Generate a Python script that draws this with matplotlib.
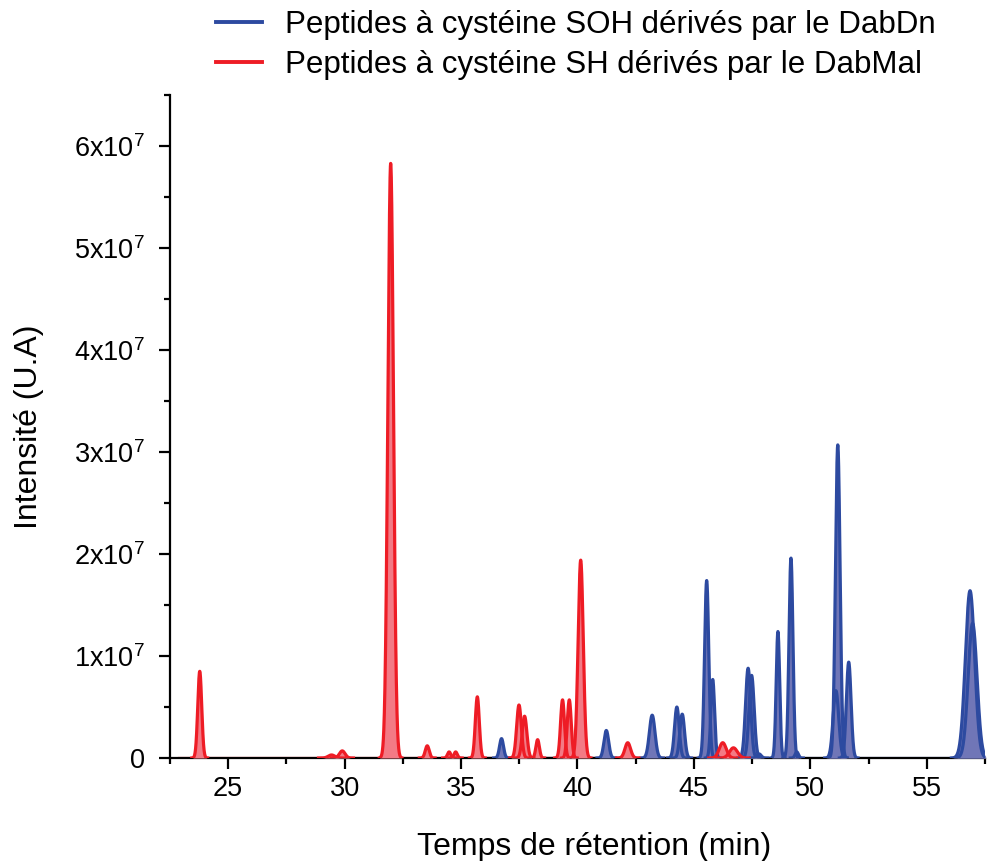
import numpy as np
import matplotlib.pyplot as plt
from matplotlib.ticker import MultipleLocator, FuncFormatter

plt.rcParams['font.family'] = ['Liberation Sans', 'DejaVu Sans']
plt.rcParams['mathtext.fontset'] = 'custom'
plt.rcParams['mathtext.rm'] = 'Liberation Sans'

# Peaks: retention time (min), height (U.A), width (sigma, min)
red_rt = [23.78, 29.44, 29.9, 31.98, 33.55, 34.49, 34.77, 35.7, 37.49, 37.73,
          38.29, 39.36, 39.65, 40.14, 42.16, 46.24, 46.7]
red_int = [8.5e6, 0.3e6, 0.7e6, 5.83e7, 1.2e6, 0.6e6, 0.6e6, 6.0e6, 5.2e6, 4.1e6,
           1.8e6, 5.7e6, 5.7e6, 1.94e7, 1.5e6, 1.5e6, 1.0e6]
red_sigma = [0.085, 0.14, 0.12, 0.12, 0.085, 0.07, 0.07, 0.085, 0.1, 0.1,
             0.075, 0.085, 0.085, 0.11, 0.12, 0.15, 0.17]

blue_rt = [36.74, 41.24, 43.21, 44.27, 44.5, 45.55, 45.81, 47.33, 47.48, 47.8,
           48.61, 49.17, 49.42, 51.1, 51.18, 51.65, 56.86, 56.97]
blue_int = [1.9e6, 2.7e6, 4.2e6, 5.0e6, 4.3e6, 1.74e7, 7.7e6, 8.8e6, 8.1e6, 0.4e6,
            1.24e7, 1.96e7, 0.6e6, 6.6e6, 3.07e7, 9.4e6, 1.64e7, 1.32e7]
blue_sigma = [0.085, 0.1, 0.12, 0.1, 0.1, 0.09, 0.08, 0.11, 0.11, 0.09,
              0.075, 0.085, 0.07, 0.12, 0.1, 0.1, 0.2, 0.19]

red_line, red_fill = '#ee1c25', '#f37a85'
blue_line, blue_fill = '#2d4aa0', '#7076b7'


def draw_peaks(ax, rts, ints, sigmas, line_c, fill_c, base, label):
    ax.plot(base, [0, 0], color=line_c, lw=2.3, label=label, zorder=2)
    for rt, h, s in zip(rts, ints, sigmas):
        x = np.linspace(rt - 4 * s, rt + 4 * s, 200)
        y = h * np.exp(-0.5 * ((x - rt) / s) ** 2)
        ax.fill_between(x, 0, y, color=fill_c, lw=0, zorder=3)
        ax.plot(x, y, color=line_c, lw=2.3, zorder=4)


fig = plt.figure(figsize=(9.88, 8.61), dpi=100)
ax = fig.add_axes([0.172, 0.1196, 0.8249, 0.7701])

draw_peaks(ax, blue_rt, blue_int, blue_sigma, blue_line, blue_fill, [35.9, 57.6],
           'Peptides à cystéine SOH dérivés par le DabDn')
draw_peaks(ax, red_rt, red_int, red_sigma, red_line, red_fill, [22.9, 47.3],
           'Peptides à cystéine SH dérivés par le DabMal')

ax.set_xlim(22.5, 57.5)
ax.set_ylim(0, 6.5e7)
ax.xaxis.set_major_locator(MultipleLocator(5))
ax.xaxis.set_minor_locator(MultipleLocator(2.5))
ax.yaxis.set_major_locator(MultipleLocator(1e7))
ax.yaxis.set_minor_locator(MultipleLocator(0.5e7))


def sci(v, pos):
    if v == 0:
        return '0'
    return r'$\mathregular{%dx10^{7}}$' % round(v / 1e7)


ax.yaxis.set_major_formatter(FuncFormatter(sci))
ax.spines['top'].set_visible(False)
ax.spines['right'].set_visible(False)
for sp in ('left', 'bottom'):
    ax.spines[sp].set_linewidth(1.6)
ax.tick_params(which='major', length=8, width=1.6, labelsize=19.5, pad=5)
ax.tick_params(axis='y', which='major', pad=10)
ax.tick_params(which='minor', length=4.5, width=1.6)

ax.set_xlabel('Temps de rétention (min)', fontsize=23)
ax.xaxis.set_label_coords(0.52, -0.112)
ax.set_ylabel('Intensité (U.A)', fontsize=23, labelpad=22)

leg = fig.legend(loc='upper left', bbox_to_anchor=(0.2, 1.01), frameon=False,
                 fontsize=22.5, handlelength=1.45, handletextpad=0.75,
                 labelspacing=0.32, borderaxespad=0.2)
for ln in leg.get_lines():
    ln.set_linewidth(2.8)

fig.savefig('out.png', dpi=100)
